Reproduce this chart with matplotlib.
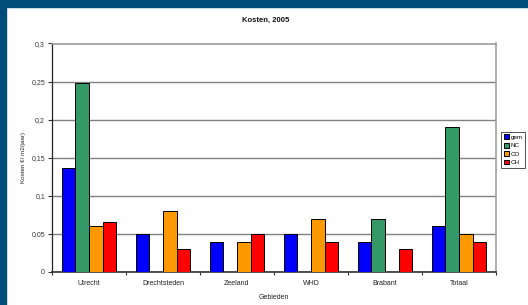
import matplotlib
matplotlib.use("Agg")
import matplotlib.pyplot as plt
import numpy as np
from matplotlib.patches import Rectangle
from matplotlib.ticker import FuncFormatter, MultipleLocator

plt.rcParams['font.family'] = ['Liberation Sans', 'DejaVu Sans']

categories = ["Utrecht", "Drechtsteden", "Zeeland", "WHD", "Brabant", "Totaal"]
series_names = ["gem", "NC", "CO", "CH"]
gem = [0.137, 0.05, 0.04, 0.05, 0.04, 0.06]
nc = [0.248, 0.0, 0.0, 0.0, 0.07, 0.19]
co = [0.06, 0.08, 0.04, 0.07, 0.0, 0.05]
ch = [0.065, 0.03, 0.05, 0.04, 0.03, 0.04]
series = [gem, nc, co, ch]
colors = ["#0000FF", "#339966", "#FF9900", "#FF0000"]

fig = plt.figure(figsize=(5.28, 3.05), dpi=100)
fig.patch.set_facecolor("white")
border = "#004D7A"
fig.patches.append(Rectangle((0, 1 - 7/305), 1, 7/305, transform=fig.transFigure, color=border, zorder=0))
fig.patches.append(Rectangle((0, 0), 6/528, 1, transform=fig.transFigure, color=border, zorder=0))

ax = fig.add_axes([52/528, 1 - 272/305, (496 - 52)/528, (272 - 43.5)/305])
x = np.arange(len(categories))
w = 0.183
for i, (name, vals, c) in enumerate(zip(series_names, series, colors)):
    offs = (i - 1.5) * w
    ax.bar(x + offs, vals, width=w, color=c, edgecolor="black", linewidth=0.7, label=name, zorder=3)

ax.set_xlim(-0.5, len(categories) - 0.5)
ax.set_ylim(0, 0.3)
ax.yaxis.set_major_locator(MultipleLocator(0.05))
ax.yaxis.set_major_formatter(FuncFormatter(lambda v, p: ("%g" % round(v, 2)).replace(".", ",")))
ax.grid(axis="y", color="#808080", linewidth=1.0, zorder=0)
ax.set_axisbelow(True)

ax.set_xticks(x)
ax.set_xticklabels(categories)
ax.set_xticks(np.arange(len(categories) + 1) - 0.5, minor=True)
ax.tick_params(axis="x", which="major", length=0, labelsize=5, pad=6, colors="#222222")
ax.tick_params(axis="x", which="minor", length=2.5, width=0.8, direction="out", color="#333333")
ax.tick_params(axis="y", length=3, width=0.8, labelsize=5, pad=2, colors="#333333")

for s in ["top", "right"]:
    ax.spines[s].set_color("#A0A0A0")
    ax.spines[s].set_linewidth(1.2)
ax.spines["left"].set_color("#222222")
ax.spines["left"].set_linewidth(0.9)
ax.spines["bottom"].set_color("#333333")
ax.spines["bottom"].set_linewidth(1.2)

ax.set_xlabel("Gebieden", fontsize=5, labelpad=5, color="#222222")
ax.set_ylabel("Kosten €/ m2/jaar)", fontsize=4.5, labelpad=4, color="#222222")

fig.text(266/528, 1 - 20/305, "Kosten, 2005", ha="center", va="center", fontsize=5.5, fontweight="bold", color="#111111")

leg = ax.legend(loc="upper left", bbox_to_anchor=((501 - 52)/444, 1 - (132 - 43.5)/228.5),
                fontsize=4.5, frameon=True, fancybox=False, edgecolor="black",
                handlelength=0.8, handleheight=0.8, handletextpad=0.3, borderpad=0.4,
                labelspacing=0.45, borderaxespad=0)
leg.get_frame().set_linewidth(0.6)

fig.savefig("out.png", dpi=100, facecolor=fig.get_facecolor())
